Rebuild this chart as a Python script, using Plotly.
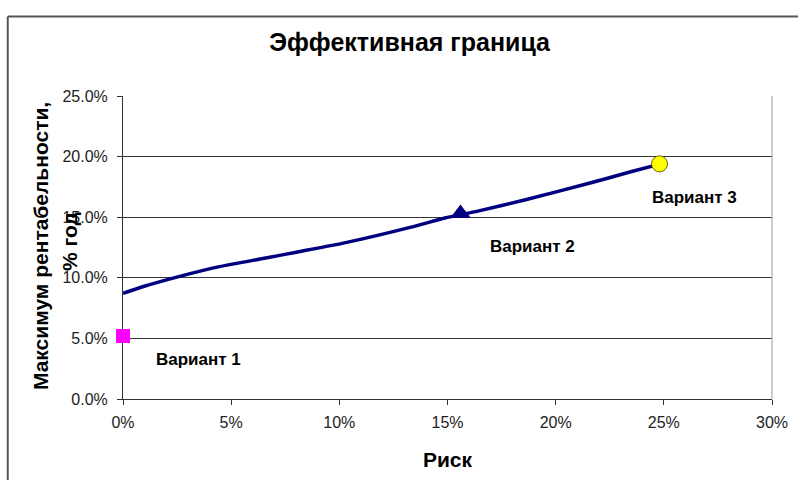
import plotly.graph_objects as go

# Efficient frontier curve (risk %, max return %)
curve_risk = [0.0, 0.94, 2.62, 4.46, 6.6, 8.13, 10.29, 13.32, 14.88, 16.40, 18.56, 21.59, 23.43, 24.81]
curve_ret = [8.71, 9.28, 10.12, 10.92, 11.63, 12.15, 12.9, 14.18, 14.93, 15.5, 16.42, 17.82, 18.73, 19.38]

# Variants
var_names = ["Вариант 1", "Вариант 2", "Вариант 3"]
var_risk = [0.0, 15.6, 24.8]
var_ret = [5.2, 15.3, 19.4]

x_ticks = [0, 5, 10, 15, 20, 25, 30]
x_labels = ["0%", "5%", "10%", "15%", "20%", "25%", "30%"]
y_ticks = [0, 5, 10, 15, 20, 25]
y_labels = ["0.0%", "5.0%", "10.0%", "15.0%", "20.0%", "25.0%"]

title = "Эффективная граница"
x_title = "Риск"
y_title_lines = ["Максимум рентабельности,", "% год"]

FONT = "Arial, Liberation Sans"

fig = go.Figure()

fig.add_trace(go.Scatter(
    x=curve_risk, y=curve_ret, mode="lines",
    line=dict(color="#000080", width=3.5, shape="spline", smoothing=0.6),
    hoverinfo="skip", showlegend=False, cliponaxis=False))

fig.add_trace(go.Scatter(
    x=[var_risk[0]], y=[var_ret[0]], mode="markers",
    marker=dict(symbol="square", size=14, color="#FF00FF", line=dict(width=0)),
    showlegend=False, cliponaxis=False))
fig.add_trace(go.Scatter(
    x=[var_risk[1]], y=[var_ret[1]], mode="markers",
    marker=dict(symbol="triangle-up", size=18, color="#000080", line=dict(width=0)),
    showlegend=False, cliponaxis=False))
fig.add_trace(go.Scatter(
    x=[var_risk[2]], y=[var_ret[2]], mode="markers",
    marker=dict(symbol="circle", size=16, color="#FFFF00", line=dict(width=1, color="#666600")),
    showlegend=False, cliponaxis=False))

# Labels offsets (pixels)
label_offsets = [(75, 24), (72, 33), (35, 34)]
for name, xr, yr, (dx, dy) in zip(var_names, var_risk, var_ret, label_offsets):
    fig.add_annotation(x=xr, y=yr, text="<b>" + name + "</b>", showarrow=False,
                       xshift=dx, yshift=-dy,
                       font=dict(family=FONT, size=17, color="black"))

# Y title as two rotated lines
fig.add_annotation(xref="paper", yref="paper", x=-0.147, y=0.505, text="<b>" + y_title_lines[0] + "</b>",
                   textangle=-90, showarrow=False,
                   font=dict(family=FONT, size=21, color="black"))
fig.add_annotation(xref="paper", yref="paper", x=-0.103, y=0.52, text="<b>" + y_title_lines[1] + "</b>",
                   textangle=-90, showarrow=False,
                   font=dict(family=FONT, size=21, color="black"))

# Outer frame: top and left edges
fig.add_shape(type="line", xref="paper", yref="paper", x0=-0.1776, x1=1.04, y0=1.262, y1=1.262,
              line=dict(color="#555555", width=2), layer="above")
fig.add_shape(type="line", xref="paper", yref="paper", x0=-0.1776, x1=-0.1776, y0=1.262, y1=-0.3,
              line=dict(color="#555555", width=2), layer="above")
# Right plot border (gray)
fig.add_shape(type="line", xref="paper", yref="paper", x0=1, x1=1, y0=0, y1=1,
              line=dict(color="#999999", width=1))

fig.update_layout(
    width=800, height=480,
    margin=dict(l=123, r=24, t=96, b=81),
    paper_bgcolor="white", plot_bgcolor="white",
    modebar=dict(bgcolor="rgba(0,0,0,0)"),
    title=dict(text="<b>" + title + "</b>", x=0.512, xanchor="center", y=0.912, yanchor="middle",
               font=dict(family=FONT, size=25, color="black")),
    xaxis=dict(range=[0, 30], tickvals=x_ticks, ticktext=x_labels,
               showgrid=False, zeroline=False, showline=True, linecolor="#333333", linewidth=1,
               ticks="outside", ticklen=5, tickcolor="#333333", layer="below traces",
               ticklabelstandoff=4,
               tickfont=dict(family=FONT, size=16, color="#222222"),
               title=dict(text="<b>" + x_title + "</b>", standoff=22,
                          font=dict(family=FONT, size=21, color="black"))),
    yaxis=dict(range=[0, 25], tickvals=y_ticks, ticktext=y_labels,
               showgrid=True, gridcolor="#333333", gridwidth=1, zeroline=False,
               showline=True, linecolor="#333333", linewidth=1, layer="below traces",
               ticks="outside", ticklen=5, tickcolor="#333333", ticklabelstandoff=6,
               tickfont=dict(family=FONT, size=16, color="#222222")),
)

fig.write_html("out.html", config={"displayModeBar": False})
